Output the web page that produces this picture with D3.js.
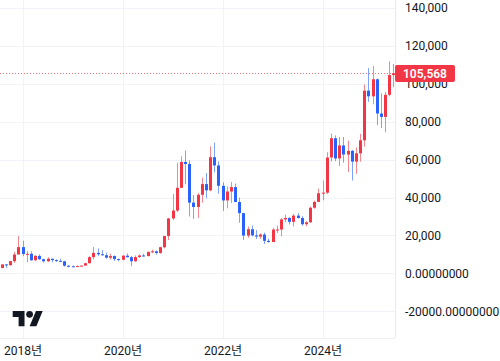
<!DOCTYPE html>
<html><head><meta charset="utf-8">
<script src="https://cdn.jsdelivr.net/npm/d3@7"></script>
<style>
html,body{margin:0;padding:0;background:#fff;}
svg{display:block;}
text{font-family:Roboto,"Noto Sans CJK KR",sans-serif;}
</style></head>
<body>
<svg id="chart" width="500" height="361"></svg>
<script>
// Monthly BTC candles, Jul 2017 .. Jun 2025
const months = [
"2017-07","2017-08","2017-09","2017-10","2017-11","2017-12",
"2018-01","2018-02","2018-03","2018-04","2018-05","2018-06","2018-07","2018-08","2018-09","2018-10","2018-11","2018-12",
"2019-01","2019-02","2019-03","2019-04","2019-05","2019-06","2019-07","2019-08","2019-09","2019-10","2019-11","2019-12",
"2020-01","2020-02","2020-03","2020-04","2020-05","2020-06","2020-07","2020-08","2020-09","2020-10","2020-11","2020-12",
"2021-01","2021-02","2021-03","2021-04","2021-05","2021-06","2021-07","2021-08","2021-09","2021-10","2021-11","2021-12",
"2022-01","2022-02","2022-03","2022-04","2022-05","2022-06","2022-07","2022-08","2022-09","2022-10","2022-11","2022-12",
"2023-01","2023-02","2023-03","2023-04","2023-05","2023-06","2023-07","2023-08","2023-09","2023-10","2023-11","2023-12",
"2024-01","2024-02","2024-03","2024-04","2024-05","2024-06","2024-07","2024-08","2024-09","2024-10","2024-11","2024-12",
"2025-01","2025-02","2025-03","2025-04","2025-05","2025-06"];
const opens = [
2480,2870,4735,4340,6450,9950,
13860,10220,10330,6930,9240,7490,6390,7730,7030,6630,6370,4040,
3740,3460,3850,4110,5360,8570,10820,10080,9590,8290,9140,7550,
7190,9350,8540,6410,8620,9450,9140,11350,11650,10780,13800,19700,
28990,33140,45140,58790,57720,37330,35040,41460,47100,43820,61300,56950,
46200,38480,43190,45530,37630,31790,19930,23290,20050,19420,20490,17170,
16540,23130,23140,28470,29250,27210,30470,29230,25940,26960,34640,37720,
42280,42580,61130,71290,60640,67490,62690,64630,58970,63330,70210,96400,
93400,102400,84350,82550,94200,104600];
const highs = [
2930,4740,4980,6470,11400,19666,
17250,11800,11700,9770,9990,7760,8480,7770,7410,7670,6590,4410,
4140,4210,4140,5640,9110,13880,13200,12330,10950,10370,9510,7750,
9580,10500,9190,9470,10080,10380,11450,12470,12090,14100,19860,29300,
41950,58350,61780,64850,59590,41330,42450,50500,52920,67000,69000,59050,
47990,45800,48190,47440,39980,31990,24670,25200,22800,21090,21480,18390,
23950,25250,29180,31000,29820,31390,31800,30200,27480,35200,38420,44700,
48970,63900,73800,72800,71950,71980,70000,65100,66500,73600,99600,108300,
109400,102800,95000,95750,111900,110500];
const lows = [
1830,2670,2970,4110,5510,10400,
9035,5900,6600,6430,7030,5750,6070,5880,6100,6200,3650,3150,
3400,3380,3760,4060,5330,7460,9100,9350,7700,7300,6520,6430,
6850,8440,3850,6150,8110,8900,8960,10660,9880,10430,13200,17600,
28130,32300,45000,47040,30000,28800,29280,37330,39600,43300,53250,42000,
32950,34300,37160,37700,26700,17600,18780,19540,18150,18190,15480,16260,
16500,21350,19550,26940,25810,24780,28860,25170,24900,26560,34100,37600,
38550,41880,59000,59200,56550,58400,53500,49000,52550,58900,66800,90500,
89200,78200,76600,74400,93400,98200];
const closes = [
2870,4735,4340,6450,9950,13860,
10220,10330,6930,9240,7490,6390,7730,7030,6630,6370,4040,3740,
3460,3850,4110,5360,8570,10820,10080,9590,8290,9140,7550,7190,
9350,8540,6410,8620,9450,9140,11350,11650,10780,13800,19700,28990,
33140,45140,58790,57720,37330,35040,41460,47100,43820,61300,56950,46200,
38480,43190,45530,37630,31790,19930,23290,20050,19420,20490,17170,16540,
23130,23140,28470,29250,27210,30470,29230,25940,26960,34640,37720,42280,
42580,61130,71290,60640,67490,62690,64630,58970,63330,70210,96400,93400,
102400,84350,82550,94200,104600,105568];

const priceTicks = [140000,120000,100000,80000,60000,40000,20000,0,-20000];
const priceTickLabels = ["140,000","120,000","100,000","80,000","60,000","40,000","20,000","0.00000000","-20000.00000000"];
const yearTicks = ["2018-01","2020-01","2022-01","2024-01"];
const yearTickLabels = ["2018년","2020년","2022년","2024년"];
const lastPrice = 105568;
const lastPriceLabel = "105,568";

const UP = "#f23645", DOWN = "#2962ff";
const W = 500, H = 361, plotR = 395, plotB = 338;
const svg = d3.select("#chart");

const mIndex = s => { const [y,m] = s.split("-").map(Number); return (y-2018)*12 + (m-1); };
const x = d3.scaleLinear().domain([0,72]).range([22.5,322.5]);
const y = d3.scaleLinear().domain([-20000,140000]).range([311.3,8]);

const data = months.map((m,i)=>({i:mIndex(m),o:opens[i],h:highs[i],l:lows[i],c:closes[i]}));

svg.append("defs").append("clipPath").attr("id","plot")
  .append("rect").attr("x",0).attr("y",0).attr("width",plotR).attr("height",plotB);

// grid
const grid = svg.append("g");
grid.selectAll(".hg").data(priceTicks).join("line")
  .attr("x1",0).attr("x2",plotR)
  .attr("y1",d=>Math.round(y(d))+0.5).attr("y2",d=>Math.round(y(d))+0.5)
  .attr("stroke","#f0f3fa").attr("stroke-width",1);
grid.selectAll(".vg").data(yearTicks).join("line")
  .attr("x1",d=>Math.round(x(mIndex(d)))+0.5).attr("x2",d=>Math.round(x(mIndex(d)))+0.5)
  .attr("y1",0).attr("y2",plotB)
  .attr("stroke","#f0f3fa").attr("stroke-width",1);

// borders
svg.append("line").attr("x1",plotR+0.5).attr("x2",plotR+0.5).attr("y1",0).attr("y2",plotB)
  .attr("stroke","#e6e9f0");
svg.append("line").attr("x1",0).attr("x2",plotR).attr("y1",plotB+0.5).attr("y2",plotB+0.5)
  .attr("stroke","#eef0f4");

// price line
svg.append("line").attr("x1",0).attr("x2",plotR)
  .attr("y1",Math.round(y(lastPrice))+0.5).attr("y2",Math.round(y(lastPrice))+0.5)
  .attr("stroke",UP).attr("stroke-opacity",0.7).attr("stroke-dasharray","1,2");

// candles
const cg = svg.append("g").attr("clip-path","url(#plot)");
const cx = d => Math.round(x(d.i));
cg.selectAll(".wick").data(data).join("line")
  .attr("x1",d=>cx(d)+0.5).attr("x2",d=>cx(d)+0.5)
  .attr("y1",d=>y(d.h)).attr("y2",d=>y(d.l))
  .attr("stroke",d=>d.c>=d.o?UP:DOWN).attr("stroke-opacity",0.6).attr("stroke-width",1);
cg.selectAll(".body").data(data).join("rect")
  .attr("x",d=>cx(d)-1).attr("width",3)
  .attr("y",d=>y(Math.max(d.o,d.c)))
  .attr("height",d=>Math.max(1,Math.abs(y(d.o)-y(d.c))))
  .attr("fill",d=>d.c>=d.o?UP:DOWN);

// y axis
const yAxis = d3.axisRight(y).tickValues(priceTicks)
  .tickFormat((d,i)=>priceTickLabels[i]).tickSize(0).tickPadding(0);
const ya = svg.append("g").attr("transform",`translate(405,0)`).call(yAxis);
ya.select(".domain").remove();
ya.selectAll("text").attr("font-size",12).attr("fill","#131722")
  .attr("font-family",'Roboto,"Noto Sans CJK KR",sans-serif');

// x axis
const xAxis = d3.axisBottom(x).tickValues(yearTicks.map(mIndex))
  .tickFormat((d,i)=>yearTickLabels[i]).tickSize(0).tickPadding(0);
const xa = svg.append("g").attr("transform",`translate(0,346)`).call(xAxis);
xa.select(".domain").remove();
xa.selectAll("text").attr("font-size",12).attr("fill","#131722")
  .attr("font-family",'Roboto,"Noto Sans CJK KR",sans-serif');

// last price label
const py = y(lastPrice);
svg.append("rect").attr("x",395).attr("y",Math.round(py)-8).attr("width",60).attr("height",17)
  .attr("rx",2).attr("fill",UP);
svg.append("text").attr("x",425).attr("y",py+0.5).attr("text-anchor","middle")
  .attr("dominant-baseline","central").attr("font-size",12).attr("font-weight",600)
  .attr("fill","#fff").text(lastPriceLabel);

// TradingView logo
const logo = svg.append("g").attr("transform","translate(12.7,307.6) scale(0.845)").attr("fill","#131722");
logo.append("path").attr("d","M14 22H7V11H0V4h14v18zM28 22h-8l7.5-18h8L28 22z");
logo.append("circle").attr("cx",20).attr("cy",8).attr("r",4);
</script>
</body></html>
